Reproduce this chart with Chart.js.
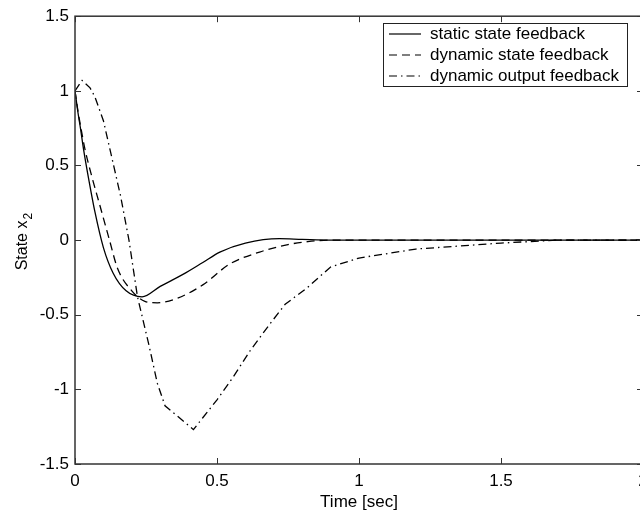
<!DOCTYPE html>
<html>
<head>
<meta charset="utf-8">
<script src="https://cdn.jsdelivr.net/npm/chart.js@4/dist/chart.umd.min.js"></script>
<style>
  html, body { margin: 0; padding: 0; background: #fff; overflow: hidden; }
  #wrap { width: 640px; height: 513px; overflow: hidden; }
</style>
</head>
<body>
<div id="wrap"><canvas id="chart01" width="660" height="513"></canvas></div>
<script>
// time samples and responses
var tStatic = [0, 0.01, 0.02, 0.03, 0.05, 0.07, 0.1, 0.134, 0.18, 0.236, 0.3, 0.38, 0.45, 0.51, 0.6, 0.72, 0.8, 0.9, 1.0, 1.5, 2.0];
var xStatic = [1.0, 0.86, 0.74, 0.61, 0.39, 0.19, -0.05, -0.22, -0.34, -0.38, -0.31, -0.23, -0.15, -0.08, -0.02, 0.01, 0.005, 0.0, 0.0, 0.0, 0.0];

var tDynState = [0, 0.01, 0.02, 0.035, 0.06, 0.085, 0.12, 0.15, 0.2, 0.246, 0.29, 0.36, 0.45, 0.545, 0.65, 0.75, 0.82, 0.9, 1.0, 1.5, 2.0];
var xDynState = [1.0, 0.87, 0.76, 0.61, 0.42, 0.25, 0.01, -0.19, -0.34, -0.41, -0.42, -0.39, -0.3, -0.16, -0.08, -0.03, -0.01, 0.0, 0.0, 0.0, 0.0];

var tDynOutput = [0, 0.025, 0.053, 0.07, 0.1, 0.13, 0.16, 0.19, 0.22, 0.26, 0.29, 0.317, 0.38, 0.417, 0.45, 0.5, 0.556, 0.617, 0.687, 0.74, 0.817, 0.9, 1.0, 1.2, 1.5, 1.7, 2.0];
var xDynOutput = [1.0, 1.07, 1.02, 0.96, 0.8, 0.55, 0.3, 0.0, -0.38, -0.7, -0.96, -1.11, -1.21, -1.27, -1.19, -1.07, -0.92, -0.74, -0.56, -0.43, -0.32, -0.18, -0.12, -0.06, -0.02, 0.0, 0.0];

var seriesNames = ['static state feedback', 'dynamic state feedback', 'dynamic output feedback'];
var xTicks = [0, 0.5, 1, 1.5, 2];
var yTicks = [-1.5, -1, -0.5, 0, 0.5, 1, 1.5];

function pts(t, v) {
  return t.map(function(x, i) { return { x: x, y: v[i] }; });
}

var FONT = 'Liberation Sans, Arial, sans-serif';

// box + inward ticks like the original plot
var framePlugin = {
  id: 'frame',
  afterDraw: function(chart) {
    var c = chart.ctx, a = chart.chartArea;
    var xs = chart.scales.x, ys = chart.scales.y;
    c.save();
    c.strokeStyle = '#333';
    c.lineWidth = 1.5;
    c.strokeRect(a.left, a.top, a.right - a.left, a.bottom - a.top);
    c.lineWidth = 1;
    c.beginPath();
    xTicks.forEach(function(v) {
      var p = Math.round(xs.getPixelForValue(v)) + 0.5;
      c.moveTo(p, a.bottom); c.lineTo(p, a.bottom - 6);
      c.moveTo(p, a.top); c.lineTo(p, a.top + 6);
    });
    yTicks.forEach(function(v) {
      var p = Math.round(ys.getPixelForValue(v)) + 0.5;
      c.moveTo(a.left, p); c.lineTo(a.left + 6, p);
      c.moveTo(a.right, p); c.lineTo(a.right - 6, p);
    });
    c.stroke();

    // y axis title with a real subscript
    c.save();
    c.translate(23, (a.top + a.bottom) / 2 + 2);
    c.rotate(-Math.PI / 2);
    c.fillStyle = '#000';
    c.textBaseline = 'middle';
    c.font = '16px ' + FONT;
    var main = 'State x';
    var w1 = c.measureText(main).width;
    c.font = '12px ' + FONT;
    var w2 = c.measureText('2').width;
    var x0 = -(w1 + w2) / 2;
    c.font = '16px ' + FONT;
    c.fillText(main, x0, 0);
    c.font = '12px ' + FONT;
    c.fillText('2', x0 + w1 + 1, 6);
    c.restore();
    c.restore();
  }
};

// boxed legend in the upper right corner
var legendPlugin = {
  id: 'boxLegend',
  afterDraw: function(chart) {
    var c = chart.ctx;
    var x0 = 383, y0 = 23, w = 244, h = 63;
    c.save();
    c.fillStyle = '#fff';
    c.fillRect(x0, y0, w, h);
    c.strokeStyle = '#222';
    c.lineWidth = 1;
    c.strokeRect(x0 + 0.5, y0 + 0.5, w, h);
    c.font = '17px ' + FONT;
    c.textBaseline = 'middle';
    c.fillStyle = '#000';
    chart.data.datasets.forEach(function(ds, i) {
      var yy = y0 + 11 + i * 21;
      c.setLineDash(ds.borderDash || []);
      c.lineWidth = 1.2;
      c.strokeStyle = '#000';
      c.beginPath();
      c.moveTo(389, yy); c.lineTo(421, yy);
      c.stroke();
      c.setLineDash([]);
      c.fillText(ds.label, 430, yy);
    });
    c.restore();
  }
};

var ctx = document.getElementById('chart01');
var myChart = new Chart(ctx, {
  type: 'scatter',
  data: {
    datasets: [{
      label: seriesNames[0],
      data: pts(tStatic, xStatic),
      showLine: true,
      borderColor: '#000',
      borderWidth: 1.3,
      pointRadius: 0,
      cubicInterpolationMode: 'monotone'
    }, {
      label: seriesNames[1],
      data: pts(tDynState, xDynState),
      showLine: true,
      borderColor: '#000',
      borderWidth: 1.3,
      borderDash: [8, 5],
      pointRadius: 0,
      cubicInterpolationMode: 'monotone'
    }, {
      label: seriesNames[2],
      data: pts(tDynOutput, xDynOutput),
      showLine: true,
      borderColor: '#000',
      borderWidth: 1.3,
      borderDash: [8, 4, 1.5, 4],
      pointRadius: 0,
      tension: 0
    }]
  },
  options: {
    responsive: false,
    animation: false,
    devicePixelRatio: 1,
    layout: { padding: { top: 13, right: 17, left: 0, bottom: 0 } },
    plugins: {
      legend: { display: false },
      tooltip: { enabled: false }
    },
    scales: {
      x: {
        type: 'linear',
        min: 0,
        max: 2,
        afterFit: function(s) { s.height = 49; },
        afterBuildTicks: function(s) { s.ticks = xTicks.map(function(v) { return { value: v }; }); },
        grid: { display: false, drawTicks: false },
        border: { display: false },
        ticks: {
          padding: 7,
          color: '#000',
          font: { family: FONT, size: 17 },
          callback: function(v) { return String(v); }
        },
        title: {
          display: true,
          text: 'Time [sec]',
          color: '#000',
          font: { family: FONT, size: 17 },
          padding: { top: 0, bottom: 0 }
        }
      },
      y: {
        min: -1.5,
        max: 1.5,
        afterFit: function(s) { s.width = 75; },
        afterBuildTicks: function(s) { s.ticks = yTicks.map(function(v) { return { value: v }; }); },
        grid: { display: false, drawTicks: false },
        border: { display: false },
        ticks: {
          padding: 6,
          color: '#000',
          font: { family: FONT, size: 17 },
          callback: function(v) { return String(v); }
        },
        title: { display: false }
      }
    }
  },
  plugins: [framePlugin, legendPlugin]
});
</script>
</body>
</html>
